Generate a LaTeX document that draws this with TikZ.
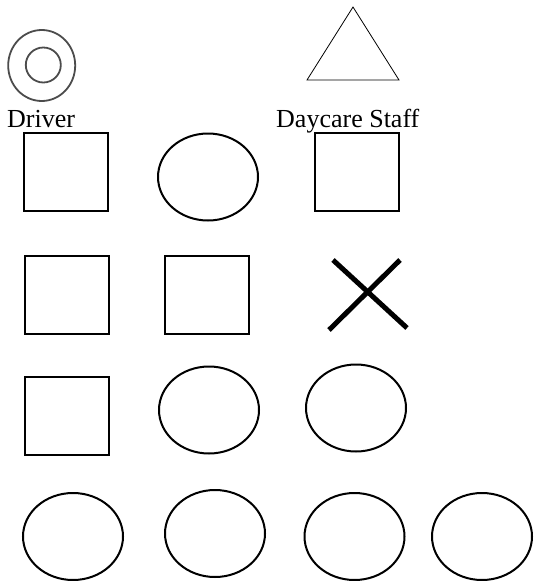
\documentclass[tikz,border=0pt]{standalone}
\usepackage{fontspec}
\setmainfont{Liberation Serif}
\usetikzlibrary{shapes.geometric}
\begin{document}
\begin{tikzpicture}[x=1pt,y=-1pt,
  boxshape/.style={draw=black,line width=2pt,rectangle,inner sep=0pt,minimum width=84pt,minimum height=78pt},
  ovalshape/.style={draw=black,line width=2pt,ellipse,inner sep=0pt,minimum width=100pt,minimum height=87pt},
  labeltext/.style={font=\fontsize{26pt}{28pt}\selectfont,inner sep=0pt,anchor=base west},
  ringline/.style={draw=black!70,line width=1.8pt}]
\useasboundingbox (0,0) rectangle (533,581);
% Driver icon
\node[ringline,ellipse,inner sep=0pt,minimum width=67pt,minimum height=71pt] (drvout) at (41.7,65.5) {};
\node[ringline,circle,inner sep=0pt,minimum size=35pt] (drvin) at (43.3,65) {};
\node[labeltext] (drvlabel) at (7,127) {Driver};
% Daycare staff triangle
\coordinate (tA) at (353,7);
\coordinate (tB) at (307,80);
\coordinate (tC) at (399,80);
\draw[line width=0.8pt] (tA) -- (tB) -- (tC) -- cycle;
\node[labeltext] (stafflabel) at (276,127) {Daycare Staff};
% Row 1
\node[boxshape] (r1a) at (65.7,171.5) {};
\node[ovalshape] (r1b) at (208,177) {};
\node[boxshape] (r1c) at (357,171.5) {};
% Row 2
\node[boxshape] (r2a) at (66.5,294.5) {};
\node[boxshape] (r2b) at (206.5,294.5) {};
\coordinate (xa1) at (333,260);
\coordinate (xa2) at (407,328);
\coordinate (xb1) at (400,260);
\coordinate (xb2) at (329,330);
\draw[line width=5pt] (xa1) -- (xa2);
\draw[line width=5pt] (xb1) -- (xb2);
% Row 3
\node[boxshape] (r3a) at (67,416) {};
\node[ovalshape] (r3b) at (209,410) {};
\node[ovalshape] (r3c) at (356,408) {};
% Row 4
\node[ovalshape] (r4a) at (73,536.5) {};
\node[ovalshape] (r4b) at (215,533.5) {};
\node[ovalshape] (r4c) at (354.5,536.5) {};
\node[ovalshape] (r4d) at (482,536.5) {};
\end{tikzpicture}
\end{document}
